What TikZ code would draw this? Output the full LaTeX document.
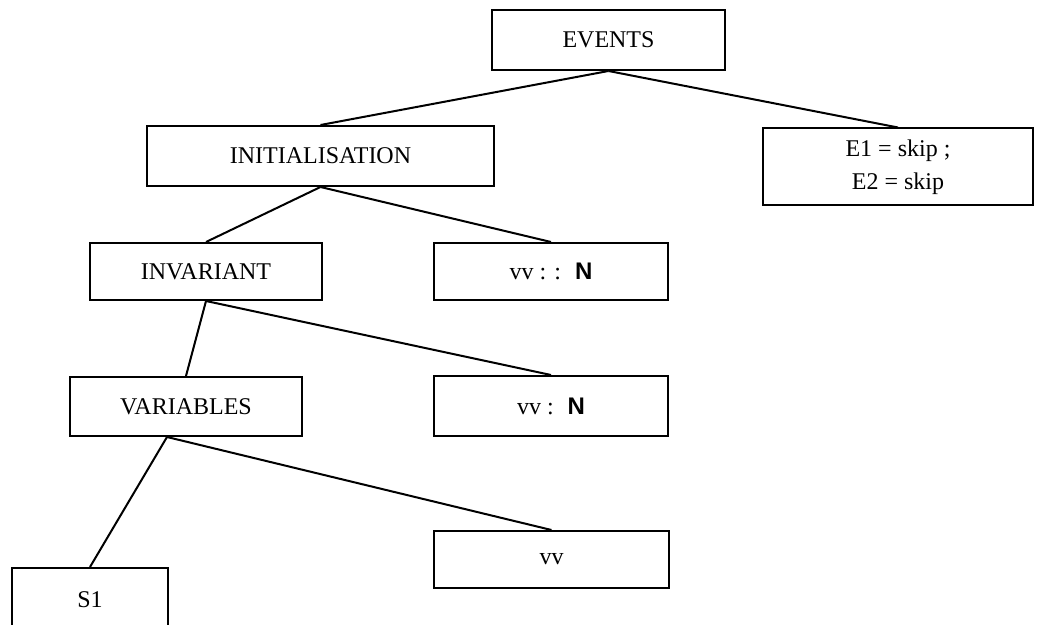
\documentclass[tikz,border=0pt]{standalone}
\usepackage{fontspec}
\setmainfont{Liberation Serif}
\newfontfamily\natfont{Liberation Sans}
\begin{document}
\begin{tikzpicture}[x=0.5pt, y=-0.5pt,
    treebox/.style={draw, rectangle, line width=1pt, inner sep=0pt, align=center, font=\fontsize{12}{16.5}\selectfont},
    link/.style={line width=1pt}]
        \clip (0,0) rectangle (1039,625);
        \node[treebox, minimum width=116.5pt, minimum height=30pt] (events) at (608.5,40) {EVENTS};
        \node[treebox, minimum width=173.5pt, minimum height=30pt] (init) at (320.5,156) {INITIALISATION};
        \node[treebox, minimum width=135pt, minimum height=38.5pt] (skip) at (898,167) {E1 = skip ;\\E2 = skip};
        \node[treebox, minimum width=116pt, minimum height=28.5pt] (inv) at (206,271.5) {INVARIANT};
        \node[treebox, minimum width=117pt, minimum height=28.5pt] (initval) at (551,271.5) {vv : :\hspace{7pt}{\natfont\bfseries N}};
        \node[treebox, minimum width=116pt, minimum height=29.5pt] (vars) at (186,406.5) {VARIABLES};
        \node[treebox, minimum width=117pt, minimum height=30pt] (invval) at (551,406) {vv :\hspace{7pt}{\natfont\bfseries N}};
        \node[treebox, minimum width=117.5pt, minimum height=28.5pt] (varval) at (551.5,559.5) {vv};
        \node[treebox, minimum width=78pt, minimum height=32pt] (s1) at (90,600) {S1};

        \draw[link] (events.south) -- (init.north);
        \draw[link] (events.south) -- (skip.north);
        \draw[link] (init.south) -- (inv.north);
        \draw[link] (init.south) -- (initval.north);
        \draw[link] (inv.south) -- (vars.north);
        \draw[link] (inv.south) -- (invval.north);
        \draw[link] ([xshift=-9.5pt]vars.south) -- (s1.north);
        \draw[link] ([xshift=-9.5pt]vars.south) -- (varval.north);
    \end{tikzpicture}
\end{document}
